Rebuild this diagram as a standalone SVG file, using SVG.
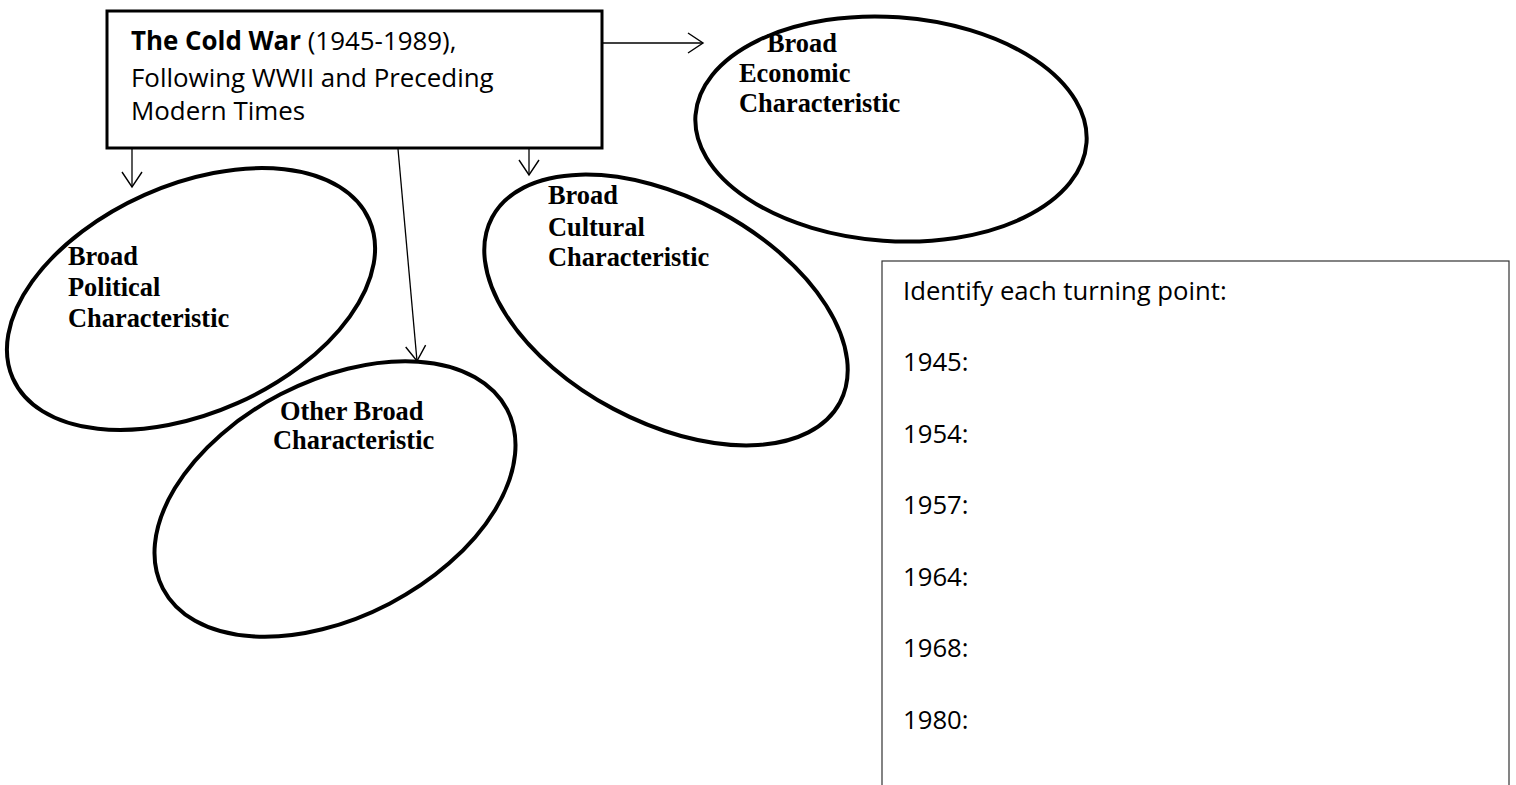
<svg xmlns="http://www.w3.org/2000/svg" width="1516" height="785" viewBox="0 0 1516 785">
<style>
.cal{font-family:"Open Sans","Noto Sans",sans-serif;font-size:25.7px;fill:#000}
.ttl{font-size:25.9px}
.tnr{font-family:"Liberation Serif","Times New Roman",serif;font-size:26.4px;font-weight:bold;fill:#000}
.ell{fill:none;stroke:#000;stroke-width:4}
.con{fill:none;stroke:#000;stroke-width:1.3}
</style>
<defs>
<marker id="arr" markerUnits="userSpaceOnUse" viewBox="0 0 18 22" refX="16" refY="11" markerWidth="18" markerHeight="22" orient="auto">
<path d="M1,1 L16,11 L1,21" fill="none" stroke="#000" stroke-width="1.4"/>
</marker>
</defs>
<rect width="1516" height="785" fill="#fff"/>
<g id="connectors">
<line class="con" x1="602" y1="43" x2="703" y2="43" marker-end="url(#arr)"/>
<line class="con" x1="132" y1="148" x2="132" y2="187" marker-end="url(#arr)"/>
<line class="con" x1="529" y1="148" x2="529" y2="175" marker-end="url(#arr)"/>
<line class="con" x1="398" y1="149" x2="417" y2="361" marker-end="url(#arr)"/>
</g>
<g id="main">
<rect x="107" y="11" width="495" height="137" fill="#fff" stroke="#000" stroke-width="3"/>
<text class="cal ttl" x="131" y="50"><tspan font-weight="bold">The Cold War</tspan> (1945-1989),</text>
<text class="cal ttl" x="131" y="87">Following WWII and Preceding</text>
<text class="cal ttl" x="131" y="120">Modern Times</text>
</g>
<g id="political">
<ellipse class="ell" cx="191" cy="299" rx="195" ry="114" transform="rotate(-24 191 299)"/>
<text class="tnr" x="68" y="265">Broad</text>
<text class="tnr" x="68" y="296">Political</text>
<text class="tnr" x="68" y="327">Characteristic</text>
</g>
<g id="other">
<ellipse class="ell" cx="335" cy="499" rx="194" ry="118" transform="rotate(-27.5 335 499)"/>
<text class="tnr" x="280" y="420">Other Broad</text>
<text class="tnr" x="273" y="449">Characteristic</text>
</g>
<g id="cultural">
<ellipse class="ell" cx="666" cy="310" rx="197" ry="112" transform="rotate(28 666 310)"/>
<text class="tnr" x="548" y="204">Broad</text>
<text class="tnr" x="548" y="236">Cultural</text>
<text class="tnr" x="548" y="266">Characteristic</text>
</g>
<g id="economic">
<ellipse class="ell" cx="891" cy="129" rx="196" ry="112" transform="rotate(4 891 129)"/>
<text class="tnr" x="767" y="52">Broad</text>
<text class="tnr" x="739" y="82">Economic</text>
<text class="tnr" x="739" y="112">Characteristic</text>
</g>
<g id="turning-points">
<rect x="882" y="261" width="627" height="600" fill="none" stroke="#333" stroke-width="1.2"/>
<text class="cal" x="903" y="300">Identify each turning point:</text>
<text class="cal" x="903" y="371">1945:</text>
<text class="cal" x="903" y="443">1954:</text>
<text class="cal" x="903" y="514">1957:</text>
<text class="cal" x="903" y="586">1964:</text>
<text class="cal" x="903" y="657">1968:</text>
<text class="cal" x="903" y="729">1980:</text>
</g>
</svg>
